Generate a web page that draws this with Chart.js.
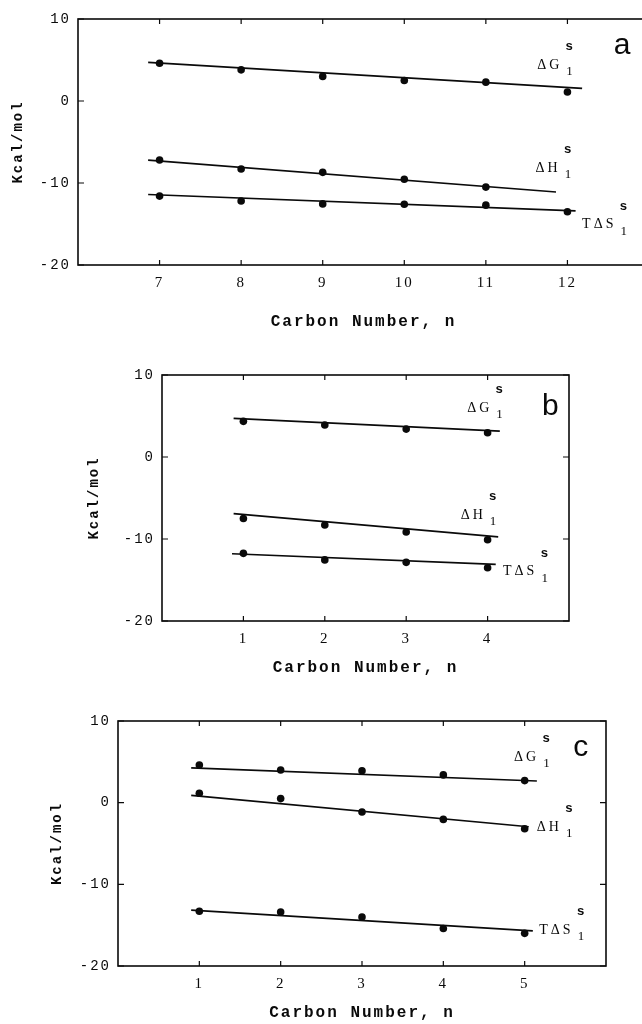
<!DOCTYPE html>
<html>
<head>
<meta charset="utf-8">
<script src="https://cdn.jsdelivr.net/npm/chart.js@4.4.1/dist/chart.umd.min.js"></script>
<style>
  body { margin: 0; background: #fff; overflow: hidden; width: 642px; height: 1024px; position: relative; }
  canvas { position: absolute; left: 0; }
</style>
</head>
<body>
<canvas id="chartA" width="660" height="340" style="top:0"></canvas>
<canvas id="chartB" width="642" height="345" style="top:340px"></canvas>
<canvas id="chartC" width="642" height="339" style="top:685px"></canvas>
<script>
// shared
const yTicks = [-20, -10, 0, 10];

// panel a
const xTicksA = [7, 8, 9, 10, 11, 12];
const nA = [7, 8, 9, 10, 11, 12];
const dGA = [4.6, 3.8, 3.0, 2.5, 2.3, 1.1];
const dHA = [-7.2, -8.3, -8.7, -9.55, -10.5];
const tdSA = [-11.6, -12.2, -12.55, -12.6, -12.7, -13.5];
const fitGA = [[6.86, 4.7], [12.18, 1.55]];
const fitHA = [[6.86, -7.2], [11.86, -11.1]];
const fitSA = [[6.86, -11.4], [12.1, -13.4]];

// panel b
const xTicksB = [1, 2, 3, 4];
const nB = [1, 2, 3, 4];
const dGB = [4.35, 3.9, 3.4, 2.95];
const dHB = [-7.5, -8.3, -9.15, -10.1];
const tdSB = [-11.75, -12.55, -12.85, -13.5];
const fitGB = [[0.88, 4.7], [4.15, 3.15]];
const fitHB = [[0.88, -6.9], [4.13, -9.75]];
const fitSB = [[0.86, -11.8], [4.1, -13.1]];

// panel c
const xTicksC = [1, 2, 3, 4, 5];
const nC = [1, 2, 3, 4, 5];
const dGC = [4.6, 4.0, 3.9, 3.4, 2.7];
const dHC = [1.15, 0.5, -1.15, -2.05, -3.2];
const tdSC = [-13.3, -13.4, -14.0, -15.4, -16.0];
const fitGC = [[0.9, 4.25], [5.15, 2.65]];
const fitHC = [[0.9, 0.9], [5.05, -2.95]];
const fitSC = [[0.9, -13.15], [5.1, -15.7]];

const ink = '#0a0a0a';

function drawNote(ctx, xs, ys, n) {
  const px = xs.getPixelForValue(n.x), py = ys.getPixelForValue(n.y);
  ctx.textAlign = 'left';
  ctx.textBaseline = 'middle';
  ctx.letterSpacing = '3px';
  ctx.font = '14px "Liberation Serif"';
  ctx.fillText(n.text, px, py);
  const w = ctx.measureText(n.text).width;
  ctx.letterSpacing = '0px';
  ctx.font = 'bold 13px "Liberation Mono"';
  ctx.fillText('s', px + w + 3, py - 18);
  ctx.font = '13px "Liberation Serif"';
  ctx.fillText('1', px + w + 4, py + 7);
}

const framePlugin = {
  id: 'frame',
  beforeDraw(chart) {
    chart.ctx.letterSpacing = '2px';
  },
  afterDraw(chart, args, opts) {
    const { ctx, chartArea: a, scales: { x, y } } = chart;
    ctx.save();
    ctx.strokeStyle = ink;
    ctx.lineWidth = 1.6;
    ctx.strokeRect(a.left, a.top, a.right - a.left, a.bottom - a.top);
    ctx.lineWidth = 1.2;
    ctx.beginPath();
    x.ticks.forEach(t => {
      const px = x.getPixelForValue(t.value);
      ctx.moveTo(px, a.bottom); ctx.lineTo(px, a.bottom - 5);
      ctx.moveTo(px, a.top); ctx.lineTo(px, a.top + 5);
    });
    y.ticks.forEach(t => {
      const py = y.getPixelForValue(t.value);
      ctx.moveTo(a.left, py); ctx.lineTo(a.left + 6, py);
      ctx.moveTo(a.right, py); ctx.lineTo(a.right - 6, py);
    });
    ctx.stroke();

    ctx.fillStyle = ink;
    opts.notes.forEach(n => drawNote(ctx, x, y, n));

    ctx.letterSpacing = '0px';
    ctx.font = '30px "Liberation Sans"';
    ctx.textAlign = 'center';
    ctx.textBaseline = 'middle';
    ctx.fillText(opts.letter.text, x.getPixelForValue(opts.letter.x), y.getPixelForValue(opts.letter.y));
    ctx.restore();
  }
};

function pts(xs, ys) {
  return ys.map((v, i) => ({ x: xs[i], y: v }));
}
function seg(p) {
  return p.map(q => ({ x: q[0], y: q[1] }));
}

function makeChart(id, c) {
  const dots = [[c.n, c.dG], [c.n, c.dH], [c.n, c.tdS]].map(([xs, ys]) => ({
    data: pts(xs, ys), showLine: false, pointRadius: 3.8,
    pointBackgroundColor: ink, pointBorderWidth: 0
  }));
  const fits = [c.fitG, c.fitH, c.fitS].map(f => ({
    data: seg(f), showLine: true, pointRadius: 0,
    borderColor: ink, borderWidth: 1.7
  }));
  return new Chart(document.getElementById(id), {
    type: 'scatter',
    data: { datasets: fits.concat(dots) },
    options: {
      responsive: false,
      animation: false,
      layout: { padding: { top: c.padTop, right: c.padRight, bottom: 0, left: 0 } },
      plugins: {
        legend: { display: false },
        tooltip: { enabled: false },
        frame: { notes: c.notes, letter: c.letter }
      },
      scales: {
        x: {
          type: 'linear', min: c.xMin, max: c.xMax,
          afterFit: s => { s.height = c.xH; },
          afterBuildTicks: s => { s.ticks = c.xTicks.map(v => ({ value: v })); },
          grid: { display: false, drawTicks: false },
          border: { display: false },
          ticks: { padding: 9, color: ink, font: { family: 'Liberation Serif', size: 15 } },
          title: {
            display: true, text: 'Carbon Number, n', color: ink,
            font: { family: 'Liberation Mono', size: 16, weight: 'bold' },
            padding: { top: 0, bottom: c.xTitlePad }
          }
        },
        y: {
          min: -20, max: 10,
          afterFit: s => { s.width = c.yW; },
          afterBuildTicks: s => { s.ticks = yTicks.map(v => ({ value: v })); },
          grid: { display: false, drawTicks: false },
          border: { display: false },
          ticks: { padding: 7, color: ink, font: { family: 'Liberation Mono', size: 14 } },
          title: {
            display: true, text: 'Kcal/mol', color: ink,
            font: { family: 'Liberation Mono', size: 14, weight: 'bold' },
            padding: { top: c.yTitlePad, bottom: 0 }
          }
        }
      }
    },
    plugins: [framePlugin]
  });
}

makeChart('chartA', {
  n: nA, dG: dGA, dH: dHA, tdS: tdSA, fitG: fitGA, fitH: fitHA, fitS: fitSA,
  xMin: 6, xMax: 13, xTicks: xTicksA,
  padTop: 19, padRight: 11, xH: 75, yW: 78, xTitlePad: 8.4, yTitlePad: 9.6,
  notes: [
    { text: 'ΔG', x: 11.63, y: 4.4 },
    { text: 'ΔH', x: 11.61, y: -8.17 },
    { text: 'TΔS', x: 12.18, y: -15.1 }
  ],
  letter: { text: 'a', x: 12.67, y: 6.8 }
});

makeChart('chartB', {
  n: nB, dG: dGB, dH: dHB, tdS: tdSB, fitG: fitGB, fitH: fitHB, fitS: fitSB,
  xMin: 0, xMax: 5, xTicks: xTicksB,
  padTop: 35, padRight: 73, xH: 64, yW: 162, xTitlePad: 7.4, yTitlePad: 85.6,
  notes: [
    { text: 'ΔG', x: 3.75, y: 5.98 },
    { text: 'ΔH', x: 3.67, y: -7.07 },
    { text: 'TΔS', x: 4.19, y: -14.0 }
  ],
  letter: { text: 'b', x: 4.77, y: 6.1 }
});

makeChart('chartC', {
  n: nC, dG: dGC, dH: dHC, tdS: tdSC, fitG: fitGC, fitH: fitHC, fitS: fitSC,
  xMin: 0, xMax: 6, xTicks: xTicksC,
  padTop: 36, padRight: 36, xH: 58, yW: 118, xTitlePad: 1.4, yTitlePad: 48.6,
  notes: [
    { text: 'ΔG', x: 4.87, y: 5.6 },
    { text: 'ΔH', x: 5.15, y: -2.98 },
    { text: 'TΔS', x: 5.18, y: -15.6 }
  ],
  letter: { text: 'c', x: 5.69, y: 6.7 }
});
</script>
</body>
</html>
